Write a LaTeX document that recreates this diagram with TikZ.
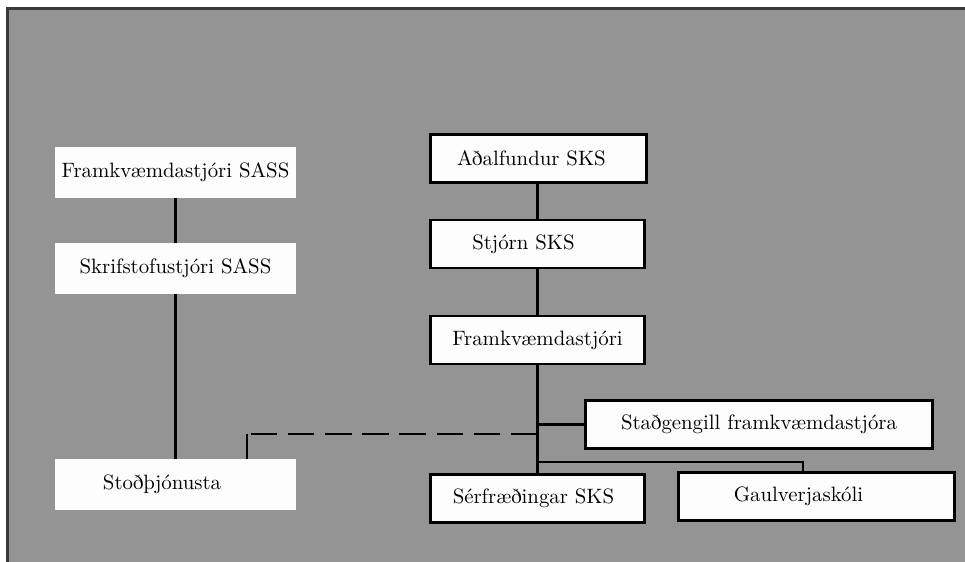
\documentclass[tikz,border=0pt]{standalone}
\usepackage{tikz}
\definecolor{panelgray}{RGB}{148,148,148}
\definecolor{framegray}{RGB}{58,58,58}
\definecolor{boxwhite}{RGB}{253,253,253}
\tikzset{
  sassbox/.style={fill=boxwhite, minimum width=120.5pt, minimum height=25.5pt, inner sep=0pt},
  sksbox/.style={draw, fill=boxwhite, line width=1.3pt, minimum height=24pt, inner sep=0pt},
  orgline/.style={line width=1.2pt},
  dashline/.style={line width=1.2pt, dash pattern=on 13.3pt off 5.3pt}
}

\begin{document}
\begin{tikzpicture}[x=0.5pt, y=-0.5pt, font=\fontsize{10.4}{12}\selectfont]
        \useasboundingbox (0,0) rectangle (965,562);
        \clip (0,0) rectangle (965,562);
        \fill[panelgray] (7,8) rectangle (990,590);
        \draw[framegray, line width=1.5pt] (7.5,590) |- (990,8.5);
        % SASS
        \node[sassbox] (fsass) at (175.5,172.5) {Framkvæmdastjóri SASS};
        \node[sassbox] (skrif) at (175.5,268.5) {Skrifstofustjóri SASS};
        \node[sassbox] (stod) at (175.5,484.5) {Stoðþjónusta\hspace*{13.5pt}};
        \draw[orgline] (fsass.south) -- (skrif.north);
        \draw[orgline] (skrif.south) -- (stod.north);
        % SKS
        \node[sksbox, minimum width=108pt] (adal) at (538.5,158.5) {Aðalfundur SKS\hspace*{7pt}};
        \node[sksbox, minimum width=107pt] (stjorn) at (537.5,244) {Stjórn SKS\hspace*{14pt}};
        \node[sksbox, minimum width=107pt] (fkv) at (537.5,340) {Framkvæmdastjóri};
        \node[sksbox, minimum width=173.5pt] (stadg) at (759,424.5) {Staðgengill framkvæmdastjóra};
        \node[sksbox, minimum width=107pt] (serf) at (537.5,498.5) {Sérfræðingar SKS\hspace*{4pt}};
        \node[sksbox, minimum width=138pt] (gaul) at (816.5,496.5) {Gaulverjaskóli\hspace*{18pt}};
        \draw[orgline] (stjorn.north) -- (stjorn.north |- adal.south);
        \draw[orgline] (stjorn.south) -- (fkv.north);
        \draw[orgline] (fkv.south) -- (serf.north);
        \draw[orgline] (stadg.west) -- (stadg.west -| fkv.south);
        \coordinate (gturn) at (803,462);
        \draw[line width=1pt] (gturn -| fkv.south) -- (gturn) -- (gturn |- gaul.north);
        % dashed link
        \coordinate (dcorner) at (247,434);
        \draw[dashline] (dcorner -| fkv.south) -- ([xshift=1.5pt]dcorner);
        \draw[orgline] (dcorner) -- (dcorner |- stod.north);
\end{tikzpicture}
\end{document}
